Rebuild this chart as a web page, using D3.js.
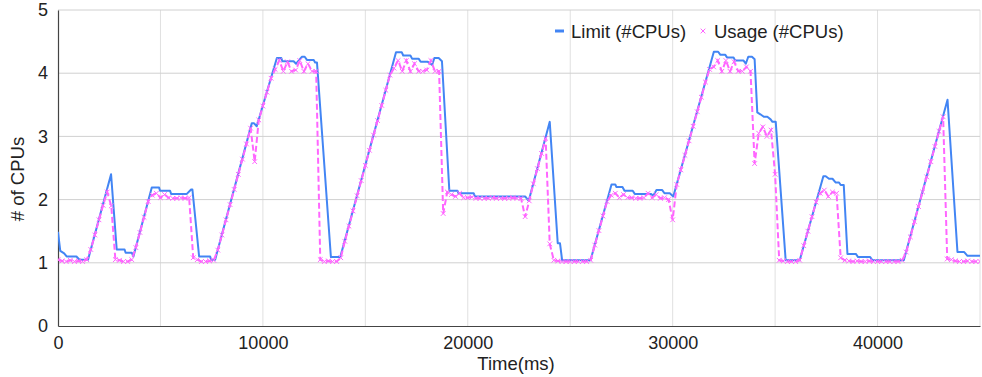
<!DOCTYPE html>
<html>
<head>
<meta charset="utf-8">
<script src="https://cdn.jsdelivr.net/npm/d3@7"></script>
<style>
  body { margin: 0; background: #fff; }
  text { font-family: Arial, "Liberation Sans", sans-serif; fill: #222; }
</style>
</head>
<body>
<svg id="chart" width="982" height="377"></svg>
<script>
// limit (#CPUs): breakpoints of the line, time in ms
const limitTime = [0, 110, 300, 420, 900, 1050, 1466, 2590, 2866, 3250, 3300, 3600, 3680, 4577, 4934, 4980, 5470, 5520, 6287, 6497, 6560, 6888, 7425, 7470, 7670,
  9460, 9560, 9700, 10683, 10900, 10950, 11500, 11620, 11900, 12040, 12150, 12480, 12550, 12640, 13320, 13776,
  16497, 16780, 16850, 17200, 17280, 17600, 17700, 18050, 18260, 18370, 18580, 18740, 19100, 19500, 19550, 20290, 20350, 22800, 22975,
  24000, 24390, 24500, 24605, 25990, 27015, 27200, 27250, 27550, 27650, 28050, 28150, 28950, 29050, 29210, 29490, 29600, 29860, 30030,
  32010, 32220, 32330, 32570, 32650, 32970, 33050, 33460, 33570, 33690, 33870, 34000, 34130, 34280, 34450, 34620, 34780, 34870, 35030, 35515,
  36200, 37355, 37470, 37630, 37800, 37960, 38120, 38200, 38350, 38530, 38940, 39050, 39640, 39750, 41280, 43415, 43900, 44230, 44390, 45000]
const limitValue = [1.49, 1.19, 1.15, 1.10, 1.10, 1.05, 1.05, 2.40, 1.21, 1.21, 1.16, 1.16, 1.10, 2.19, 2.19, 2.14, 2.14, 2.09, 2.09, 2.16, 2.16, 1.10, 1.10, 1.05, 1.05,
  3.21, 3.21, 3.16, 4.24, 4.24, 4.19, 4.19, 4.15, 4.26, 4.26, 4.21, 4.21, 4.17, 4.17, 1.09, 1.09,
  4.33, 4.33, 4.28, 4.28, 4.23, 4.23, 4.18, 4.18, 4.13, 4.24, 4.24, 4.19, 2.14, 2.14, 2.10, 2.10, 2.05, 2.05, 1.98,
  3.23, 1.31, 1.31, 1.04, 1.04, 2.24, 2.24, 2.20, 2.20, 2.14, 2.14, 2.09, 2.09, 2.06, 2.15, 2.15, 2.10, 2.10, 2.05,
  4.34, 4.34, 4.29, 4.29, 4.25, 4.25, 4.20, 4.20, 4.15, 4.26, 4.26, 4.22, 3.38, 3.35, 3.31, 3.31, 3.27, 3.23, 3.23, 1.04,
  1.04, 2.37, 2.37, 2.33, 2.33, 2.27, 2.27, 2.23, 2.23, 1.14, 1.14, 1.09, 1.09, 1.04, 1.04, 3.58, 1.17, 1.17, 1.11, 1.11]

// usage (#CPUs): one sample every 200 ms
const usageStep = 200
const usageValue = [
  1.05, 1.03, 1.02, 1.04, 1.02, 1.03, 1.02, 1.05, 1.21, 1.44,
  1.68, 1.91, 2.12, 1.90, 1.05, 1.04, 1.02, 1.02, 1.05, 1.24,
  1.48, 1.72, 1.97, 2.07, 2.10, 2.03, 2.08, 2.03, 2.02, 2.02,
  2.03, 2.02, 2.03, 1.08, 1.05, 1.02, 1.02, 1.03, 1.04, 1.20,
  1.44, 1.68, 1.92, 2.16, 2.40, 2.64, 2.88, 3.13, 2.60, 3.26,
  3.48, 3.70, 3.92, 4.06, 4.20, 4.03, 4.18, 4.03, 4.05, 4.20,
  4.03, 4.15, 4.03, 4.03, 1.05, 1.02, 1.03, 1.02, 1.02, 1.08,
  1.34, 1.58, 1.82, 2.06, 2.30, 2.54, 2.78, 3.02, 3.25, 3.49,
  3.73, 3.97, 4.08, 4.20, 4.03, 4.20, 4.03, 4.15, 4.03, 4.03,
  4.05, 4.20, 4.03, 4.03, 1.78, 2.12, 2.08, 2.05, 2.10, 2.03,
  2.03, 2.04, 2.02, 2.02, 2.02, 2.02, 2.03, 2.02, 2.02, 2.02,
  2.02, 2.03, 2.02, 2.02, 1.73, 1.98, 2.25, 2.49, 2.73, 2.97,
  1.30, 1.04, 1.03, 1.02, 1.02, 1.02, 1.02, 1.02, 1.02, 1.02,
  1.04, 1.28, 1.51, 1.74, 1.97, 2.07, 2.10, 2.03, 2.08, 2.03,
  2.03, 2.02, 2.02, 2.03, 2.10, 2.03, 2.08, 2.02, 2.03, 2.00,
  1.68, 2.24, 2.47, 2.70, 2.93, 3.16, 3.39, 3.62, 3.86, 4.06,
  4.10, 4.20, 4.03, 4.20, 4.03, 4.18, 4.03, 4.03, 4.10, 4.03,
  2.57, 3.05, 3.15, 3.00, 3.10, 2.40, 1.04, 1.03, 1.02, 1.02,
  1.02, 1.04, 1.27, 1.50, 1.73, 1.96, 2.10, 2.15, 2.05, 2.12,
  2.10, 1.08, 1.04, 1.03, 1.02, 1.03, 1.02, 1.02, 1.03, 1.02,
  1.02, 1.02, 1.02, 1.02, 1.02, 1.02, 1.04, 1.17, 1.41, 1.65,
  1.89, 2.12, 2.36, 2.60, 2.84, 3.08, 3.31, 1.06, 1.05, 1.03,
  1.02, 1.02, 1.03, 1.02, 1.02, 1.02]

const xTicks = [0, 10000, 20000, 30000, 40000]
const xGrid = [5000, 10000, 15000, 20000, 25000, 30000, 35000, 40000, 45000]
const yTicks = [0, 1, 2, 3, 4, 5]
const seriesNames = ['Limit (#CPUs)', 'Usage (#CPUs)']
const limitColor = '#4285f4'
const usageColor = '#ff66ff'

const margin = {top: 10, right: 2, bottom: 51, left: 58}
const width = 982 - margin.left - margin.right
const height = 377 - margin.top - margin.bottom

const limitData = limitTime.map((t, i) => ({t: t, v: limitValue[i]}))
const usageData = usageValue.map((v, i) => ({t: i * usageStep, v: v}))

const svg = d3.select('#chart')
const g = svg.append('g').attr('transform', `translate(${margin.left},${margin.top})`)

const x = d3.scaleLinear().domain([0, 45000]).range([0, width])
const y = d3.scaleLinear().domain([0, 5]).range([height, 0])

// grid
g.append('g')
    .selectAll('line')
    .data(xGrid)
    .join('line')
    .attr('x1', d => x(d)).attr('x2', d => x(d))
    .attr('y1', 0).attr('y2', height)
    .attr('stroke', '#e0e0e0')
g.append('g')
    .selectAll('line')
    .data(yTicks.slice(1))
    .join('line')
    .attr('x1', 0).attr('x2', width)
    .attr('y1', d => y(d)).attr('y2', d => y(d))
    .attr('stroke', '#d0d0d0')

// axes
const xAxis = g.append('g')
    .attr('transform', `translate(0,${height})`)
    .call(d3.axisBottom(x).tickValues(xTicks).tickSize(0).tickPadding(10).tickFormat(d3.format('d')))
xAxis.select('.domain').attr('stroke', '#444').attr('stroke-width', 1.2)
xAxis.selectAll('text').style('font-size', '18px').attr('fill', '#222')

const yAxis = g.append('g')
    .call(d3.axisLeft(y).tickValues(yTicks).tickSize(0).tickPadding(10).tickFormat(d3.format('d')))
yAxis.select('.domain').attr('stroke', '#444').attr('stroke-width', 1.2)
yAxis.selectAll('text').style('font-size', '18px').attr('fill', '#222')

// titles
svg.append('text')
    .attr('x', margin.left + width / 2 - 3)
    .attr('y', 370)
    .attr('text-anchor', 'middle')
    .style('font-size', '18.5px')
    .text('Time(ms)')
svg.append('text')
    .attr('transform', `translate(24,${margin.top + height / 2 + 11}) rotate(-90)`)
    .attr('text-anchor', 'middle')
    .style('font-size', '18.5px')
    .text('# of CPUs')

// lines
svg.append('clipPath').attr('id', 'plotClip')
    .append('rect').attr('x', 0).attr('y', -2).attr('width', width).attr('height', height + 4)
const plot = g.append('g').attr('clip-path', 'url(#plotClip)')

const line = d3.line().x(d => x(d.t)).y(d => y(d.v))

plot.append('path')
    .datum(limitData)
    .attr('fill', 'none')
    .attr('stroke', limitColor)
    .attr('stroke-width', 2)
    .attr('stroke-linejoin', 'round')
    .attr('d', line)

plot.append('path')
    .datum(usageData)
    .attr('fill', 'none')
    .attr('stroke', usageColor)
    .attr('stroke-width', 2)
    .attr('stroke-dasharray', '6,3')
    .attr('d', line)

const cross = d3.symbol().type(d3.symbolX).size(16)
plot.append('g')
    .selectAll('path')
    .data(usageData)
    .join('path')
    .attr('transform', d => `translate(${x(d.t)},${y(d.v)})`)
    .attr('d', cross)
    .attr('fill', 'none')
    .attr('stroke', usageColor)
    .attr('stroke-width', 1)

// legend
const legend = svg.append('g').attr('transform', 'translate(555,31)')
legend.append('line')
    .attr('x1', 0).attr('x2', 9)
    .attr('stroke', limitColor).attr('stroke-width', 3)
legend.append('text')
    .attr('x', 16).attr('y', 6.5)
    .style('font-size', '18.5px')
    .text(seriesNames[0])
legend.append('path')
    .attr('transform', 'translate(148,0)')
    .attr('d', cross)
    .attr('fill', 'none')
    .attr('stroke', usageColor)
    .attr('stroke-width', 1)
legend.append('text')
    .attr('x', 159).attr('y', 6.5)
    .style('font-size', '18.5px')
    .text(seriesNames[1])
</script>
</body>
</html>
